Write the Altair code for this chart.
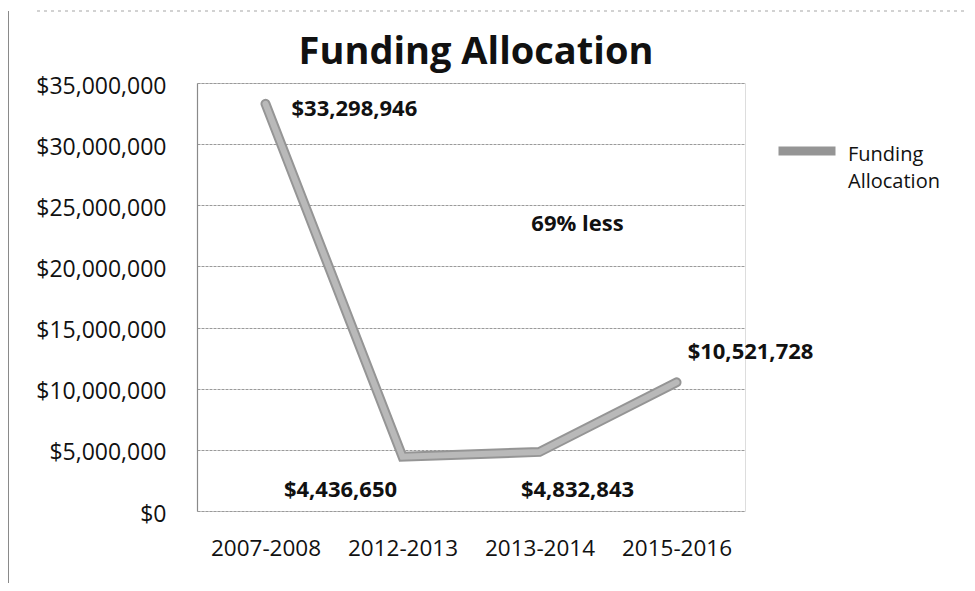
import altair as alt
import pandas as pd

# ---- data ----
years = ["2007-2008", "2012-2013", "2013-2014", "2015-2016"]
funding = [33298946, 4436650, 4832843, 10521728]
series_name = "Funding Allocation"
legend_lines = ["", "Funding", "Allocation"]
note_text = ["69% less"]
note_year = ["2013-2014"]
note_value = [23500000]
y_ticks = [0, 5000000, 10000000, 15000000, 20000000, 25000000, 30000000, 35000000]

df = pd.DataFrame({"year": years, "funding": funding, "series": [series_name] * len(years)})
note_df = pd.DataFrame({"year": note_year, "funding": note_value, "t": note_text})

FONT = "Open Sans"
W, H = 548, 428

x_enc = alt.X("year:N", sort=years, title=None,
              axis=alt.Axis(domain=False, ticks=False, grid=False, labelAngle=0,
                            labelFont=FONT, labelFontSize=22.5, labelColor="#111",
                            labelPadding=26))
y_enc = alt.Y("funding:Q", title=None,
              scale=alt.Scale(domain=[0, 35000000], nice=False, zero=True),
              axis=alt.Axis(values=y_ticks, format="$,.0f", ticks=False,
                            domain=True, domainColor="#8a8a8a", domainWidth=1.2,
                            grid=True, gridColor="#9a9a9a", gridWidth=1, gridDash=[3, 1],
                            labelFont=FONT, labelFontSize=23, labelColor="#111",
                            labelPadding=31, labelOffset=3))

base = alt.Chart(df).encode(x=x_enc, y=y_enc)

outer = base.mark_line(strokeWidth=10, strokeCap="round", strokeJoin="miter").encode(
    color=alt.Color("series:N",
                    scale=alt.Scale(domain=[series_name], range=["#959595"]),
                    legend=alt.Legend(orient="none", legendX=577, legendY=35,
                                      symbolType="stroke", symbolSize=3249,
                                      symbolStrokeWidth=9,
                                      labelExpr="''", labelOffset=0, labelFontSize=1,
                                      title=legend_lines, titleOrient="right",
                                      titleAnchor="start", titleBaseline="top",
                                      titleAlign="left",
                                      titleLineHeight=27, titlePadding=-6,
                                      titleFont=FONT, titleFontSize=20,
                                      titleFontWeight="normal", titleColor="#111",
                                      titleLimit=300))
)
inner = base.mark_line(strokeWidth=6, strokeCap="round", strokeJoin="miter", color="#b9b9b9")

label_specs = [
    (years[0], 26, 5, "left"),
    (years[1], -62, 33, "center"),
    (years[2], 38, 38, "center"),
    (years[3], 74, -30, "center"),
]
label_layers = []
for yr, dx, dy, al in label_specs:
    label_layers.append(
        base.transform_filter(alt.datum.year == yr).mark_text(
            dx=dx, dy=dy, align=al, baseline="middle", font=FONT,
            fontSize=22, fontWeight="bold", color="#111"
        ).encode(text=alt.Text("funding:Q", format="$,.0f"))
    )

note = alt.Chart(note_df).mark_text(
    dx=38, align="center", baseline="middle", font=FONT, fontSize=22,
    fontWeight="bold", color="#111"
).encode(x=alt.X("year:N", sort=years), y=alt.Y("funding:Q"), text="t:N")

left_border = alt.Chart(df).mark_rule(color="#8a8a8a", strokeWidth=1.5).encode(
    x=alt.value(-189), y=alt.value(-72), y2=alt.value(540))
top_border = alt.Chart(df).mark_rule(color="#cfcfcf", strokeWidth=1, strokeDash=[3, 4]).encode(
    x=alt.value(-160), x2=alt.value(770), y=alt.value(-72))

chart = alt.layer(left_border, top_border, outer, inner, *label_layers, note).properties(
    width=W, height=H,
    title=alt.TitleParams("Funding Allocation", font=FONT, fontSize=38, fontWeight="bold",
                          color="#111", anchor="middle", dx=5, dy=76, offset=14),
    autosize=alt.AutoSizeParams(type="none"),
    padding={"left": 189, "top": 75, "right": 222, "bottom": 72},
).configure_view(stroke=None).configure(background="white")

chart.save("out.html", embed_options={"renderer": "svg", "actions": False})
